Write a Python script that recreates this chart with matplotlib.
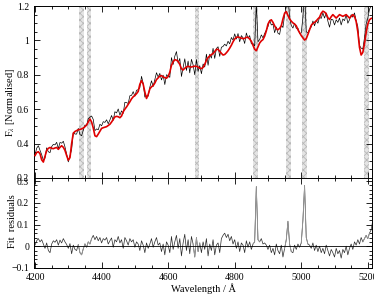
import numpy as np
import matplotlib
matplotlib.use("Agg")
import matplotlib.pyplot as plt
from matplotlib.ticker import MultipleLocator

# sampling of the spectrum (Angstrom)
wave = np.arange(4200, 5216, 5)

# best-fit model (red), one row per 100 A
model = [
    0.330, 0.348, 0.352, 0.340, 0.305, 0.292, 0.325, 0.360, 0.372, 0.377,
    0.372, 0.370, 0.374, 0.377, 0.366, 0.378, 0.387, 0.378, 0.360, 0.330,
    0.303, 0.318, 0.400, 0.460, 0.470, 0.475, 0.480, 0.482, 0.485, 0.490,
    0.498, 0.508, 0.525, 0.543, 0.525, 0.490, 0.445, 0.440, 0.455, 0.472,
    0.488, 0.492, 0.495, 0.498, 0.505, 0.512, 0.525, 0.540, 0.555, 0.558,
    0.556, 0.550, 0.560, 0.585, 0.600, 0.613, 0.628, 0.643, 0.660, 0.672,
    0.680, 0.690, 0.703, 0.745, 0.766, 0.745, 0.700, 0.662, 0.685, 0.718,
    0.730, 0.737, 0.752, 0.772, 0.782, 0.793, 0.795, 0.788, 0.783, 0.780,
    0.790, 0.815, 0.855, 0.875, 0.888, 0.885, 0.878, 0.860, 0.835, 0.828,
    0.838, 0.845, 0.850, 0.846, 0.845, 0.848, 0.850, 0.849, 0.845, 0.838,
    0.836, 0.843, 0.860, 0.885, 0.900, 0.910, 0.917, 0.924, 0.935, 0.948,
    0.948, 0.937, 0.925, 0.915, 0.918, 0.928, 0.940, 0.955, 0.972, 0.992,
    1.008, 1.018, 1.020, 1.017, 1.013, 1.010, 1.012, 1.018, 1.018, 1.008,
    0.995, 0.972, 0.948, 0.940, 0.962, 0.985, 0.997, 1.005, 1.025, 1.055,
    1.095, 1.113, 1.120, 1.105, 1.085, 1.068, 1.062, 1.070, 1.085, 1.125,
    1.158, 1.168, 1.145, 1.125, 1.112, 1.102, 1.095, 1.085, 1.062, 1.045,
    1.028, 1.015, 1.002, 1.010, 1.035, 1.062, 1.088, 1.098, 1.105, 1.113,
    1.125, 1.135, 1.158, 1.170, 1.165, 1.155, 1.132, 1.122, 1.138, 1.150,
    1.140, 1.130, 1.140, 1.150, 1.145, 1.140, 1.145, 1.150, 1.140, 1.130,
    1.140, 1.150, 1.140, 1.110, 1.050, 0.960, 0.915, 0.930, 0.980, 1.045,
    1.095, 1.120, 1.128, 1.130,
]

# data minus model
resid = [
    0.005, 0.025, 0.035, 0.020, 0.030, 0.010, -0.010, 0.015, -0.020, -0.030,
    0.010, 0.025, 0.018, 0.030, 0.005, 0.028, 0.015, 0.035, 0.020, 0.008,
    -0.010, 0.012, -0.035, 0.005, -0.015, -0.020, 0.008, -0.030, -0.040, -0.012,
    0.010, -0.005, 0.020, 0.010, 0.035, 0.050, 0.030, 0.045, 0.025, 0.040,
    0.015, 0.035, 0.028, 0.040, 0.010, 0.025, 0.038, -0.005, 0.030, 0.020,
    0.045, 0.015, 0.030, -0.010, 0.040, 0.025, 0.005, 0.035, 0.020, 0.030,
    -0.005, 0.020, 0.010, -0.020, 0.025, 0.005, -0.030, 0.015, -0.010, 0.010,
    0.035, -0.005, 0.020, 0.040, 0.005, 0.015, -0.025, 0.010, -0.040, 0.020,
    0.005, -0.030, 0.045, -0.015, 0.020, 0.050, -0.010, 0.035, -0.045, 0.015,
    0.055, -0.020, 0.030, -0.035, 0.045, 0.010, -0.050, 0.040, -0.025, 0.015,
    -0.030, 0.020, -0.015, 0.035, -0.045, 0.010, -0.020, 0.030, -0.040, 0.005,
    0.015, -0.030, 0.035, 0.050, 0.060, 0.040, 0.055, 0.025, 0.045, 0.010,
    0.030, -0.010, 0.020, -0.025, 0.015, 0.005, -0.030, 0.025, -0.005, 0.020,
    -0.015, 0.010, 0.020, 0.275, 0.030, 0.020, 0.035, 0.010, 0.015, 0.005,
    -0.015, 0.005, -0.030, -0.010, -0.040, 0.010, -0.020, -0.035, 0.005, -0.050,
    -0.010, 0.030, 0.115, 0.010, -0.025, -0.030, 0.005, -0.015, 0.010, -0.005,
    0.015, 0.120, 0.280, 0.040, 0.010, 0.005, -0.010, 0.015, -0.020, 0.005,
    -0.025, 0.000, -0.030, -0.010, -0.035, 0.005, -0.020, -0.045, -0.015, -0.030,
    -0.050, -0.010, -0.035, -0.020, -0.055, -0.015, -0.030, 0.000, -0.040, -0.010,
    0.010, -0.015, 0.020, 0.005, 0.030, 0.010, 0.040, 0.020, 0.035, 0.050,
    0.035, 0.060, 0.075, 0.120,
]

# masked emission-line regions
mask_lo = [4333, 4355, 4680, 4856, 4954, 5002, 5188]
mask_hi = [4347, 4369, 4694, 4870, 4968, 5016, 5204]

plt.rcParams["font.family"] = ["Liberation Serif", "DejaVu Serif"]
plt.rcParams["mathtext.fontset"] = "stix"
plt.rcParams["hatch.color"] = "#b8b8b8"
plt.rcParams["hatch.linewidth"] = 0.6


def style(ax):
    ax.tick_params(which="both", direction="in", top=True, right=True,
                   labelsize=7, width=0.6)
    ax.tick_params(which="major", length=4)
    ax.tick_params(which="minor", length=2)
    for s in ax.spines.values():
        s.set_linewidth(0.7)


def main():
    w = np.array(wave, dtype=float)
    m = np.array(model)
    r = np.array(resid)
    flux = m + r

    fig = plt.figure(figsize=(3.74, 3.02), dpi=100)
    ax1 = fig.add_axes([0.091, 0.411, 0.904, 0.569])
    ax2 = fig.add_axes([0.091, 0.113, 0.904, 0.298], sharex=ax1)

    for lo, hi in zip(mask_lo, mask_hi):
        ax1.axvspan(lo, hi, facecolor="#e4e4e4", edgecolor="#b8b8b8",
                    hatch="xxxxx", linewidth=0, zorder=0)

    ax1.plot(w, flux, color="black", lw=0.5, zorder=2)
    ax1.plot(w, m, color="#e00000", lw=1.2, zorder=3)
    ax1.set_xlim(4197, 5213)
    ax1.set_ylim(0.2, 1.2)
    ax1.yaxis.set_minor_locator(MultipleLocator(0.05))
    ax1.xaxis.set_major_locator(MultipleLocator(200))
    ax1.xaxis.set_minor_locator(MultipleLocator(50))
    ax1.set_yticks([0.2, 0.4, 0.6, 0.8, 1.0, 1.2])
    ax1.set_yticklabels(["0.2", "0.4", "0.6", "0.8", "1", "1.2"])
    ax1.tick_params(labelbottom=False)
    ax1.set_ylabel(r"F$_\lambda$ [Normalised]", fontsize=7.5, labelpad=2)
    ax1.yaxis.set_label_coords(-0.05, 0.44)
    style(ax1)

    ax2.plot(w, r, color="#2a2a2a", lw=0.5, zorder=2)
    for lo, hi in zip(mask_lo, mask_hi):
        sel = (w >= lo - 5) & (w <= hi + 5)
        ax2.plot(w[sel], r[sel], color="#9a9a9a", lw=0.6, zorder=3)
    ax2.axhline(0, color="black", lw=0.6, zorder=4)
    ax2.set_ylim(-0.1, 0.315)
    ax2.yaxis.set_minor_locator(MultipleLocator(0.02))
    ax2.set_yticks([-0.1, 0, 0.1, 0.2, 0.3])
    ax2.set_yticklabels(["\u22120.1", "0", "0.1", "0.2", "0.3"])
    ax2.set_xticks([4200, 4400, 4600, 4800, 5000, 5200])
    ax2.set_xlabel("Wavelength / \u00c5", fontsize=7.5, labelpad=1)
    ax2.set_ylabel("Fit  residuals", fontsize=7.5, labelpad=2)
    ax2.yaxis.set_label_coords(-0.05, 0.52)
    style(ax2)

    fig.savefig("out.png", dpi=100)
    plt.close(fig)


if __name__ == "__main__":
    main()
